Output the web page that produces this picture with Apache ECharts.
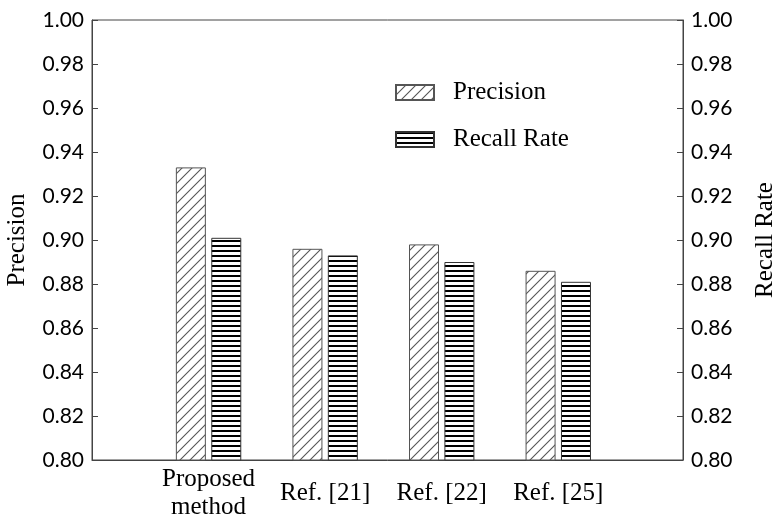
<!DOCTYPE html>
<html>
<head>
<meta charset="utf-8">
<script src="https://cdn.jsdelivr.net/npm/echarts@6/dist/echarts.min.js"></script>
<style>
html,body{margin:0;padding:0;background:#fff;}
#chart{width:773px;height:519px;}
</style>
</head>
<body>
<div id="chart"></div>
<script>
// Methods compared, and their scores
const methods = ['Proposed\nmethod', 'Ref. [21]', 'Ref. [22]', 'Ref. [25]'];
const precision = [0.933, 0.896, 0.898, 0.886];
const recallRate = [0.901, 0.893, 0.890, 0.881];
const yTicks = [0.80, 0.82, 0.84, 0.86, 0.88, 0.90, 0.92, 0.94, 0.96, 0.98, 1.00];

// Hatch fills: diagonal lines for precision, horizontal stripes for recall
function diagonalPattern() {
  const c = document.createElement('canvas');
  c.width = 10; c.height = 10;
  const g = c.getContext('2d');
  g.fillStyle = '#fff'; g.fillRect(0, 0, 10, 10);
  g.strokeStyle = '#555'; g.lineWidth = 1.1;
  g.beginPath();
  g.moveTo(-1, 11); g.lineTo(11, -1);
  g.moveTo(-1, 1); g.lineTo(1, -1);
  g.moveTo(9, 11); g.lineTo(11, 9);
  g.stroke();
  return c;
}
function stripePattern() {
  const c = document.createElement('canvas');
  c.width = 10; c.height = 5;
  const g = c.getContext('2d');
  g.fillStyle = '#fff'; g.fillRect(0, 0, 10, 5);
  g.fillStyle = '#000'; g.fillRect(0, 0, 10, 2);
  return c;
}

const serif = 'Liberation Serif';
const sans = 'Lato';
const axisColor = '#444';

const chart = echarts.init(document.getElementById('chart'));
const yAxisBase = {
  type: 'value', min: yTicks[0], max: yTicks[yTicks.length - 1], interval: 0.02,
  nameLocation: 'middle', nameRotate: 90,
  nameTextStyle: { fontFamily: serif, fontSize: 25, color: '#000' },
  axisLine: { show: true, lineStyle: { color: axisColor, width: 1 } },
  axisTick: { show: true, inside: true, length: 6, lineStyle: { color: axisColor } },
  axisLabel: { fontFamily: sans, fontSize: 21, color: '#000', formatter: v => v.toFixed(2) },
  splitLine: { show: false }
};

chart.setOption({
  animation: false,
  backgroundColor: '#fff',
  grid: {
    left: 92, right: 90, top: 20, bottom: 59,
    containLabel: false, outerBoundsMode: 'none',
    show: true, borderColor: axisColor, borderWidth: 1, backgroundColor: 'transparent'
  },
  legend: {
    orient: 'vertical', left: 395, top: 80, padding: 0,
    itemWidth: 38, itemHeight: 15, itemGap: 22, icon: 'rect',
    textStyle: { fontFamily: serif, fontSize: 25, color: '#000', lineHeight: 20, padding: [0, 0, 0, 14] },
    data: ['Precision', 'Recall Rate']
  },
  xAxis: {
    type: 'value', min: 0, max: 5.07, interval: 1,
    axisLine: { show: true, lineStyle: { color: axisColor } },
    axisTick: { show: false },
    splitLine: { show: false },
    axisLabel: {
      showMaxLabel: false, margin: 33, verticalAlign: 'middle', lineHeight: 28,
      fontFamily: serif, fontSize: 25, color: '#000',
      formatter: v => methods[v - 1] || ''
    }
  },
  yAxis: [
    Object.assign({}, yAxisBase, { position: 'left', name: 'Precision', nameGap: 62 }),
    Object.assign({}, yAxisBase, { position: 'right', name: 'Recall Rate', nameGap: 70 })
  ],
  series: [
    {
      name: 'Precision', type: 'bar', barWidth: 30, barGap: '18%',
      itemStyle: { color: { image: diagonalPattern(), repeat: 'repeat' }, borderColor: '#555', borderWidth: 1 },
      data: precision.map((v, i) => [i + 1, v])
    },
    {
      name: 'Recall Rate', type: 'bar', barWidth: 30, barGap: '18%', yAxisIndex: 1,
      itemStyle: { color: { image: stripePattern(), repeat: 'repeat' }, borderColor: '#333', borderWidth: 1 },
      data: recallRate.map((v, i) => [i + 1, v])
    }
  ]
});
</script>
</body>
</html>
